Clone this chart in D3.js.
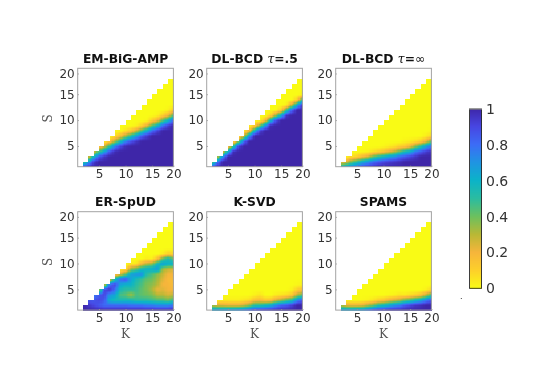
<!DOCTYPE html>
<html><head><meta charset="utf-8">
<script src="https://cdn.jsdelivr.net/npm/d3@7"></script>
<style>html,body{margin:0;padding:0;background:#fff}svg{display:block;filter:blur(.35px)}</style>
</head><body><div id="c"></div>
<script>
// Recovery rate by K (one list per K = 2..19), values for S = 1,2,...; S beyond the list up to K reads 0.
const Ks = d3.range(2, 20);
const emBigAmp = [
[.95,.4],[1,.65,.2],[1,.93,.58,.2],[1,1,.85,.45,.1],[1,1,.95,.66,.27,.02],[1,1,1,.87,.5,.13],
[1,1,1,.98,.75,.33,.06],[1,1,1,1,.9,.54,.17],[1,1,1,1,.98,.75,.33,.06],[1,1,1,1,1,.87,.5,.13],
[1,1,1,1,1,.95,.66,.27,.02],[1,1,1,1,1,1,.84,.45,.1],[1,1,1,1,1,1,.93,.62,.22,.01],[1,1,1,1,1,1,1,.8,.42,.1],
[1,1,1,1,1,1,1,.92,.58,.2,.02],[1,1,1,1,1,1,1,1,.8,.42,.1],[1,1,1,1,1,1,1,1,.92,.58,.2,.02],[1,1,1,1,1,1,1,1,1,.8,.42,.1]];
const dlBcdHalf = [
[.95,.35],[1,.77,.22],[1,1,.7,.17],[1,1,1,.6,.1],[1,1,1,.97,.5,.04],[1,1,1,1,.92,.38],
[1,1,1,1,1,.82,.27],[1,1,1,1,1,1,.7,.17],[1,1,1,1,1,1,1,.6,.1],[1,1,1,1,1,1,1,.92,.38],
[1,1,1,1,1,1,1,1,.7,.17],[1,1,1,1,1,1,1,1,.98,.55,.07],[1,1,1,1,1,1,1,1,1,.88,.33],[1,1,1,1,1,1,1,1,1,1,.6,.1],
[1,1,1,1,1,1,1,1,1,1,.95,.45,.02],[1,1,1,1,1,1,1,1,1,1,1,.82,.27],[1,1,1,1,1,1,1,1,1,1,1,1,.6,.1],[1,1,1,1,1,1,1,1,1,1,1,1,.95,.45,.02]];
const dlBcdInf = [
[.6,.18],[.7,.25],[.8,.4,.06],[.85,.5,.1],[.92,.62,.18,.01],[.95,.7,.25,.02],
[.97,.8,.4,.06],[1,.85,.5,.1],[1,.9,.58,.15,.01],[1,.93,.66,.22,.03],[1,.95,.7,.3,.05],[1,.97,.8,.42,.1],
[1,1,.85,.55,.12,.02],[1,1,.9,.62,.2,.03],[1,1,.95,.78,.36,.06],[1,1,1,.85,.5,.1],[1,1,1,.93,.66,.22,.03],[1,1,1,.97,.8,.4,.08,.01]];
const erSpud = [
[1,1],[1,.95,.85],[1,.9,.85,.75],[1,.85,.9,.85,.25],[1,.8,.85,.9,.9,.2],[1,.8,.6,.7,.95,.8,.2],
[1,.8,.55,.65,.8,.9,.55,.12],[1,.8,.55,.45,.55,.65,.8,.25,.02],[1,.8,.55,.42,.5,.6,.85,.42,.05],
[1,.78,.55,.33,.5,.6,.65,.65,.35,.03],[1,.78,.5,.45,.48,.5,.55,.7,.42,.05],[1,.78,.5,.42,.42,.45,.48,.72,.55,.2],
[1,.75,.5,.4,.38,.38,.42,.5,.6,.3,.03],[1,.75,.48,.38,.32,.36,.4,.45,.62,.35,.02],[1,.72,.45,.3,.22,.3,.33,.36,.7,.55,.15],
[1,.72,.45,.3,.24,.2,.24,.28,.34,.68,.4,.03],[1,.72,.4,.25,.2,.2,.18,.2,.28,.6,.55,.1],[1,.78,.48,.28,.2,.17,.18,.2,.25,.62,.42,.08]];
const kSvd = [
[.7,.3],[.72,.25],[.72,.24,.03],[.75,.22,.03],[.75,.22,.03],[.78,.22,.03],[.8,.27,.05],[.88,.35,.07],[.92,.5,.15,.02],
[.95,.5,.17,.05],[.97,.55,.12],[.98,.6,.13],[1,.72,.25,.03],[1,.82,.32,.05],[1,.85,.42,.07],[1,.92,.5,.12,.02],[1,1,.72,.3,.1,.01],[1,1,.85,.42,.15,.02]];
const spams = [
[.72,.3],[.72,.22],[.72,.2],[.75,.2],[.75,.22,.01],[.82,.3,.02],[.9,.38,.05],[.95,.5,.1],[.97,.55,.13],[1,.62,.2,.01],
[1,.7,.25,.02],[1,.75,.3,.05],[1,.85,.4,.04],[1,.9,.45,.07],[1,.95,.55,.1],[1,.97,.62,.15],[1,1,.75,.28,.02],[1,1,.85,.45,.08]];

const titles = ["EM-BiG-AMP","DL-BCD \u03C4=.5","DL-BCD \u03C4=\u221E","ER-SpUD","K-SVD","SPAMS"];
const tickPos = [5,10,15,19];
const tickText = ["5","10","15","20"];
const barTicks = [0,.2,.4,.6,.8,1];
const colorStops = [0,.1,.2,.3,.4,.5,.6,.7,.8,.9,1];
const colorHex = ["#f9fb15","#fdd02a","#f6b53b","#b9b835","#6cc05e","#2bbca0","#0bb3c8","#1f94e2","#3c6cf6","#4746e2","#3e26a8"];

const color = d3.scaleLinear().domain(colorStops).range(colorHex).interpolate(d3.interpolateRgb);
const svg = d3.select("#c").append("svg").attr("width",560).attr("height",380);
const lefts = [77.7,206.7,335.7], tops = [68.3,211.7], W = 95.7, H = 98.4, SUB = 4;
const panels = [emBigAmp,dlBcdHalf,dlBcdInf,erSpud,kSvd,spams];
const fontS = "'DejaVu Sans'";

panels.forEach((cols,i)=>{
  const col = i%3, row = Math.floor(i/3);
  const x = d3.scaleLinear().domain([1,19]).range([0,W]);
  const y = d3.scaleLinear().domain([1,20]).range([H,0]);
  const g = svg.append("g").attr("transform",`translate(${lefts[col]},${tops[row]})`);
  const val = (K,S)=>{ const c = cols[K-2]; return (c && c[S-1]!==undefined) ? c[S-1] : 0; };
  const subs = [];
  Ks.slice(0,-1).forEach(K=>{
    d3.range(1,K).forEach(S=>{
      for(let a=0;a<SUB;a++) for(let b=0;b<SUB;b++){
        const u=(a+.5)/SUB, w=(b+.5)/SUB;
        const v = (1-u)*(1-w)*val(K,S)+u*(1-w)*val(K+1,S)+(1-u)*w*val(K,S+1)+u*w*val(K+1,S+1);
        subs.push({k0:K+a/SUB,k1:K+(a+1)/SUB,s0:S+b/SUB,s1:S+(b+1)/SUB,v});
      }
    });
  });
  g.append("g").attr("shape-rendering","crispEdges").selectAll("rect").data(subs).join("rect")
    .attr("x",d=>x(d.k0)).attr("width",d=>x(d.k1)-x(d.k0)+.4)
    .attr("y",d=>y(d.s1)).attr("height",d=>y(d.s0)-y(d.s1)+.4)
    .attr("fill",d=>color(d.v));
  const fmt = v=>tickText[tickPos.indexOf(v)];
  const ax = d3.axisBottom(x).tickValues(tickPos).tickFormat(fmt).tickSize(-1).tickPadding(3);
  const ay = d3.axisLeft(y).tickValues(tickPos).tickFormat(fmt).tickSize(-1).tickPadding(3);
  const gx = g.append("g").attr("transform",`translate(0,${H})`).call(ax);
  const gy = g.append("g").call(ay);
  [gx,gy].forEach(a=>{
    a.select(".domain").remove();
    a.selectAll("line").attr("stroke","#8a8a8a");
    a.selectAll("text").attr("fill","#333").attr("font-family",fontS).attr("font-size",12);
  });
  g.append("rect").attr("width",W).attr("height",H).attr("fill","none").attr("stroke","#a3a3a3").attr("stroke-width",1);
  const t = g.append("text").attr("x",W/2).attr("y",-5.5).attr("text-anchor","middle")
    .attr("font-family",fontS).attr("font-weight","bold").attr("font-size",12.3).attr("fill","#111");
  const m = titles[i].match(/^(.*?)(\u03C4)(=)(.*)$/);
  if(m){
    t.append("tspan").text(m[1]);
    t.append("tspan").text(m[2]).attr("font-family","'DejaVu Serif'").attr("font-style","italic").attr("font-weight","normal");
    t.append("tspan").text(m[3]);
    t.append("tspan").text(m[4]).attr("font-weight",m[4]==="\u221E"?"normal":"bold");
  } else t.text(titles[i]);
  if(row===1) g.append("text").attr("x",W/2).attr("y",H+28).attr("text-anchor","middle")
    .attr("font-family","'DejaVu Serif'").attr("font-size",12).attr("fill","#555").text("K");
  if(col===0) g.append("text").attr("transform",`translate(-26,${H/2+1}) rotate(-90)`).attr("text-anchor","middle")
    .attr("font-family","'DejaVu Serif'").attr("font-size",12).attr("fill","#555").text("S");
});

// colorbar
const cb = d3.scaleLinear().domain([0,1]).range([288.3,109]);
const cg = svg.append("g");
cg.append("g").attr("shape-rendering","crispEdges").selectAll("rect").data(d3.range(0,1,1/180)).join("rect")
  .attr("x",469.5).attr("width",12).attr("y",d=>cb(d+1/180)).attr("height",d=>cb(d)-cb(d+1/180)+.5).attr("fill",d=>color(d));
cg.append("rect").attr("x",469.5).attr("y",109).attr("width",12).attr("height",179.3).attr("fill","none").attr("stroke","#2a2a2a").attr("stroke-width",.9);
cg.append("line").attr("x1",469).attr("x2",482).attr("y1",109).attr("y2",109).attr("stroke","#9a9a9a");
const axc = d3.axisRight(cb).tickValues(barTicks).tickFormat(d3.format("~g")).tickSize(0).tickPadding(4.5);
const gc = cg.append("g").attr("transform","translate(481.5,0)").call(axc);
gc.select(".domain").remove();
gc.selectAll("text").attr("fill","#333").attr("font-family",fontS).attr("font-size",14);
svg.append("text").attr("x",460).attr("y",299).attr("font-family",fontS).attr("font-size",8).attr("fill","#222").text(".");
</script></body></html>
